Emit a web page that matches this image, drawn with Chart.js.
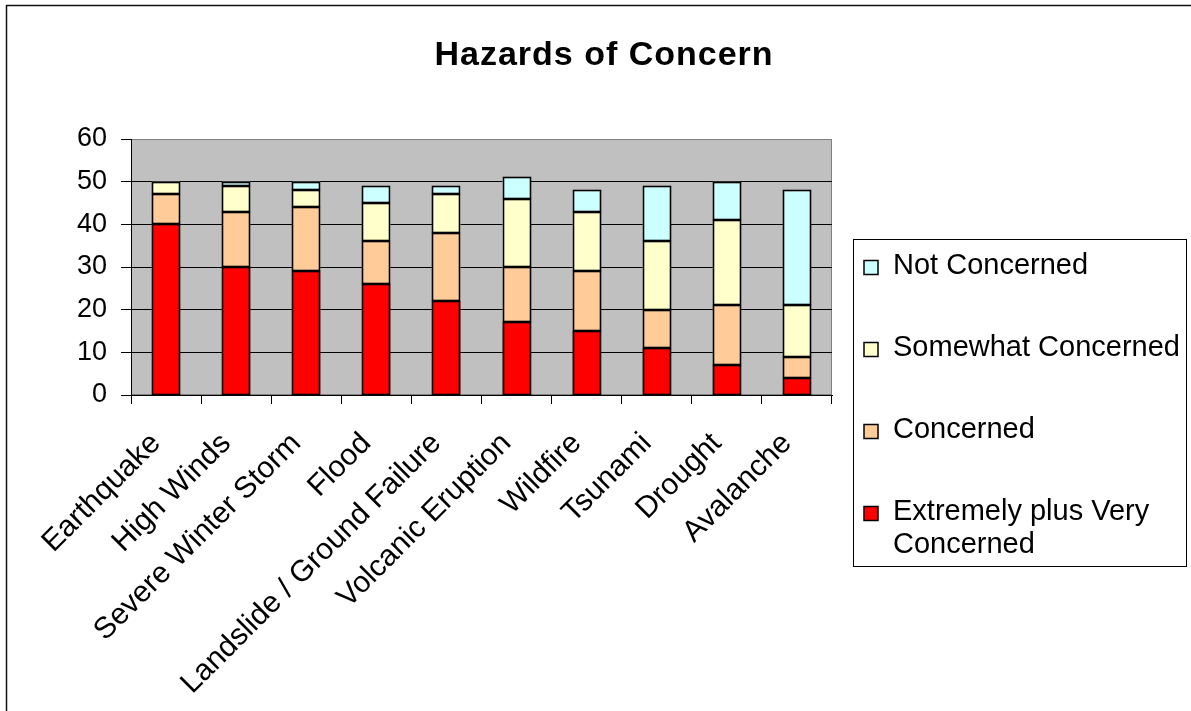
<!DOCTYPE html>
<html>
<head>
<meta charset="utf-8">
<title>Hazards of Concern</title>
<script src="https://cdn.jsdelivr.net/npm/chart.js@4/dist/chart.umd.min.js"></script>
<style>
  html, body { margin: 0; padding: 0; background: #fff; }
  #wrap { width: 1191px; height: 711px; position: relative; }
</style>
</head>
<body>
<div id="wrap"><canvas id="c" width="1191" height="711"></canvas></div>
<script>
// Survey responses per hazard (counts of respondents)
const categories = ['Earthquake', 'High Winds', 'Severe Winter Storm', 'Flood',
  'Landslide / Ground Failure', 'Volcanic Eruption', 'Wildfire', 'Tsunami', 'Drought', 'Avalanche'];
const extremelyVery = [40, 30, 29, 26, 22, 17, 15, 11, 7, 4];
const concerned     = [7, 13, 15, 10, 16, 13, 14, 9, 14, 5];
const somewhat      = [3, 6, 4, 9, 9, 16, 14, 16, 20, 12];
const notConcerned  = [0, 1, 2, 4, 2, 5, 5, 13, 9, 27];
const yTickValues   = [0, 10, 20, 30, 40, 50, 60];
const chartTitle    = 'Hazards of Concern';

const FONT = '"Liberation Sans", Arial, sans-serif';

// Page frame, grey plot background and title
const framePlugin = {
  id: 'frame',
  beforeDraw(chart) {
    const { ctx, chartArea: a } = chart;
    ctx.save();
    ctx.fillStyle = '#fff';
    ctx.fillRect(0, 0, chart.width, chart.height);
    ctx.strokeStyle = '#111';
    ctx.lineWidth = 1.5;
    ctx.beginPath();
    ctx.moveTo(6.5, chart.height + 2);
    ctx.lineTo(6.5, 5.5);
    ctx.lineTo(chart.width + 2, 5.5);
    ctx.stroke();
    ctx.fillStyle = '#C0C0C0';
    ctx.fillRect(a.left, a.top, a.right - a.left, a.bottom - a.top);
    ctx.strokeStyle = '#808080';
    ctx.lineWidth = 1;
    ctx.strokeRect(a.left + 0.5, a.top + 0.5, a.right - a.left - 1, a.bottom - a.top - 1);
    ctx.restore();
  },
  afterDraw(chart) {
    const { ctx } = chart;
    ctx.save();
    ctx.fillStyle = '#000';
    ctx.font = 'bold 34px ' + FONT;
    ctx.letterSpacing = '1px';
    ctx.textAlign = 'center';
    ctx.textBaseline = 'alphabetic';
    ctx.fillText(chartTitle, 604, 65);
    ctx.restore();
  }
};

// Black outline round every bar segment, taken from the laid-out bar elements
const outlinePlugin = {
  id: 'segmentOutline',
  afterDatasetsDraw(chart) {
    const { ctx } = chart;
    ctx.save();
    ctx.strokeStyle = '#000';
    ctx.lineWidth = 1.6;
    chart.data.datasets.forEach((ds, di) => {
      chart.getDatasetMeta(di).data.forEach(bar => {
        const p = bar.getProps(['x', 'y', 'base', 'width'], true);
        const top = Math.min(p.y, p.base), bottom = Math.max(p.y, p.base);
        if (bottom - top < 0.5) return;
        const l = Math.round(p.x - p.width / 2) + 0.5;
        const r = Math.round(p.x + p.width / 2) - 0.5;
        const t = Math.round(top) + 0.5, b = Math.round(bottom) - 0.5;
        ctx.strokeRect(l, t, r - l, b - t);
      });
    });
    ctx.restore();
  }
};

// Boxed legend on the right, top series first, long labels wrapped
const legendPlugin = {
  id: 'boxLegend',
  afterDraw(chart) {
    const { ctx } = chart;
    const box = { left: 853.5, top: 239.5, right: 1186.5, bottom: 566.5 };
    ctx.save();
    ctx.fillStyle = '#fff';
    ctx.fillRect(box.left, box.top, box.right - box.left, box.bottom - box.top);
    ctx.strokeStyle = '#000';
    ctx.lineWidth = 1;
    ctx.strokeRect(box.left, box.top, box.right - box.left, box.bottom - box.top);
    ctx.font = '29px ' + FONT;
    ctx.textBaseline = 'middle';
    ctx.textAlign = 'left';
    const textX = 893, maxW = 292, step = 82, lineH = 33;
    const sets = chart.data.datasets.slice().reverse();
    sets.forEach((ds, i) => {
      const y = box.top + 26 + i * step;
      ctx.fillStyle = ds.backgroundColor;
      ctx.fillRect(864, y - 5, 14, 14);
      ctx.strokeStyle = '#000';
      ctx.lineWidth = 1.5;
      ctx.strokeRect(864, y - 5, 14, 14);
      // wrap label
      const words = ds.label.split(' ');
      const lines = [];
      let cur = '';
      words.forEach(w => {
        const t = cur ? cur + ' ' + w : w;
        if (ctx.measureText(t).width > maxW && cur) { lines.push(cur); cur = w; } else { cur = t; }
      });
      lines.push(cur);
      ctx.fillStyle = '#000';
      lines.forEach((ln, k) => ctx.fillText(ln, textX, y + k * lineH));
    });
    ctx.restore();
  }
};

const seriesStyle = { borderWidth: 0, barPercentage: 0.4, categoryPercentage: 1.0 };

new Chart(document.getElementById('c'), {
  type: 'bar',
  data: {
    labels: categories,
    datasets: [
      Object.assign({ label: 'Extremely plus Very Concerned', data: extremelyVery, backgroundColor: '#FF0000' }, seriesStyle),
      Object.assign({ label: 'Concerned', data: concerned, backgroundColor: '#FFCC99' }, seriesStyle),
      Object.assign({ label: 'Somewhat Concerned', data: somewhat, backgroundColor: '#FFFFCC' }, seriesStyle),
      Object.assign({ label: 'Not Concerned', data: notConcerned, backgroundColor: '#CCFFFF' }, seriesStyle)
    ]
  },
  options: {
    responsive: false,
    animation: false,
    devicePixelRatio: 1,
    layout: { padding: { left: 0, top: 139, right: 359, bottom: 0 } },
    plugins: { legend: { display: false }, title: { display: false }, tooltip: { enabled: false } },
    scales: {
      x: {
        stacked: true,
        grid: { drawOnChartArea: false, drawTicks: true, tickLength: 9, color: '#000', offset: true },
        border: { color: '#000', width: 1 },
        ticks: { color: '#000', font: { family: FONT, size: 30 }, maxRotation: 45, minRotation: 45,
          autoSkip: false, padding: 22, labelOffset: -10 },
        afterFit(scale) { scale.height = 316; }
      },
      y: {
        stacked: true,
        min: 0, max: 60,
        afterBuildTicks(scale) { scale.ticks = yTickValues.map(v => ({ value: v })); },
        grid: { color: ctx => (ctx.tick && ctx.tick.value === 60 ? '#808080' : '#000'),
          tickColor: '#000', tickLength: 10, lineWidth: 1 },
        border: { color: '#000', width: 1 },
        ticks: { color: '#000', font: { family: FONT, size: 27 }, padding: 14 },
        afterFit(scale) { scale.width = 131; }
      }
    }
  },
  plugins: [framePlugin, outlinePlugin, legendPlugin]
});
</script>
</body>
</html>
